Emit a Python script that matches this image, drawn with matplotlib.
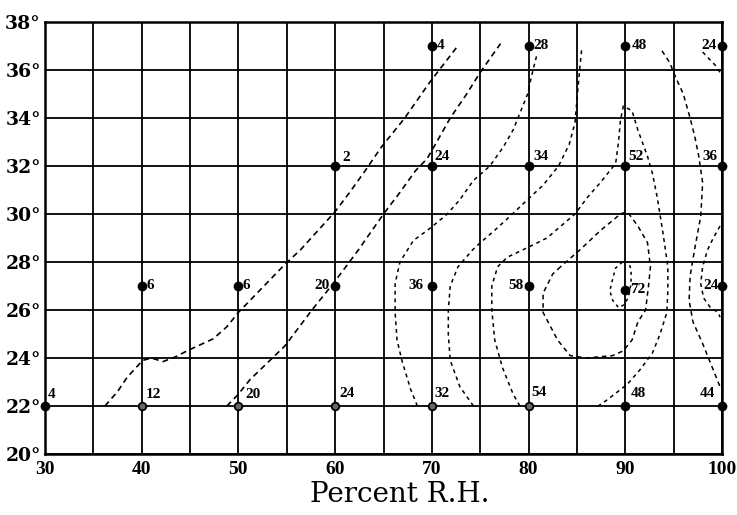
import matplotlib
matplotlib.use("Agg")
import matplotlib.pyplot as plt

# ---------------- data ----------------
# observation points: relative humidity (%), temperature (deg C), value
pt_rh = [70, 80, 90, 100,
         60, 70, 80, 90, 100,
         40, 50, 60, 70, 80, 90, 100,
         30, 40, 50, 60, 70, 80, 90, 100]
pt_temp = [37, 37, 37, 37,
           32, 32, 32, 32, 32,
           27, 27, 27, 27, 27, 26.85, 27,
           22, 22, 22, 22, 22, 22, 22, 22]
pt_value = ["4", "28", "48", "24",
            "2", "24", "34", "52", "36",
            "6", "6", "20", "36", "58", "72", "24",
            "4", "12", "20", "24", "32", "54", "48", "44"]

# hand-drawn isolines (rh, temp)
curveA_rh = [36.2, 37.5, 38.5, 40.1, 41.0, 42.2, 43.5, 44.7, 47.4, 48.8, 50.0, 51.2, 54.8, 56.4, 60.0, 61.5, 63.1, 64.8, 67.2, 69.8, 72.6]
curveA_t = [22.0, 22.6, 23.2, 23.9, 24.0, 23.85, 24.05, 24.3, 24.8, 25.3, 25.9, 26.4, 27.9, 28.5, 30.1, 30.9, 31.8, 32.8, 34.0, 35.5, 36.96]

curveB_rh = [48.8, 49.9, 51.2, 54.8, 57.6, 59.8, 62.4, 65.0, 66.7, 68.3, 69.5, 70.5, 71.9, 73.6, 75.0, 77.1]
curveB_t = [22.0, 22.45, 23.1, 24.5, 26.0, 27.1, 28.5, 30.0, 30.9, 31.8, 32.3, 33.0, 34.0, 35.0, 35.9, 37.1]

curveC_rh = [68.5, 67.8, 66.9, 66.4, 66.2, 66.2, 66.7, 68.1, 69.8, 71.6, 72.9, 74.3, 76.0, 77.4, 78.4, 79.4, 79.9, 80.4, 80.9]
curveC_t = [22.0, 22.7, 23.9, 24.75, 25.9, 27.1, 28.0, 28.9, 29.4, 30.0, 30.6, 31.4, 32.0, 32.8, 33.5, 34.5, 35.0, 35.9, 36.7]

curveD_rh = [74.3, 72.9, 71.9, 71.7, 71.7, 71.9, 72.7, 74.2, 75.0, 76.3, 77.8, 79.9, 81.5, 83.1, 84.2, 84.8, 85.0, 85.3, 85.5]
curveD_t = [22.0, 22.8, 23.9, 25.0, 26.0, 27.0, 27.8, 28.5, 28.8, 29.25, 29.8, 30.6, 31.2, 32.0, 32.9, 33.8, 34.75, 36.1, 36.9]

curveG_rh = [79.1, 78.4, 77.3, 76.5, 76.2, 76.2, 76.8, 77.8, 79.9, 81.9, 84.8, 86.1, 87.4, 89.0, 89.3, 89.5, 89.8, 90.7, 91.3, 92.3, 92.8, 93.3, 93.9, 94.4, 94.4, 94.3, 93.6, 92.8, 91.5, 90.2, 88.1, 87.2]
curveG_t = [22.0, 22.5, 23.6, 24.75, 26.0, 27.0, 27.8, 28.2, 28.6, 29.0, 30.0, 30.7, 31.3, 32.1, 33.0, 33.9, 34.5, 34.3, 33.5, 32.4, 31.7, 30.7, 29.2, 27.8, 26.8, 25.9, 25.0, 24.2, 23.5, 22.9, 22.25, 22.0]

curveE_rh = [83.3, 82.5, 81.5, 81.5, 83.0, 84.3, 86.0, 88.7, 89.8, 90.7, 91.3, 92.1, 92.4, 92.6, 92.3, 91.3, 90.2, 89.5, 87.4, 85.3, 83.3]
curveE_t = [27.8, 27.5, 26.7, 25.9, 24.75, 24.1, 24.0, 24.1, 24.3, 24.75, 25.5, 26.0, 27.0, 27.8, 28.8, 29.5, 30.1, 30.0, 29.3, 28.5, 27.8]

curveH_rh = [89.7, 89.0, 88.7, 88.4, 88.7, 89.3, 89.8, 90.3, 90.6, 90.6, 90.3, 89.7]
curveH_t = [28.0, 27.75, 27.3, 26.8, 26.4, 26.1, 26.2, 26.5, 27.1, 27.7, 28.0, 28.0]

curveI_rh = [93.8, 94.6, 95.2, 96.0, 96.7, 97.2, 97.6, 98.0, 97.8, 97.2, 96.7, 96.6, 97.0, 98.0, 98.8, 99.5, 99.8]
curveI_t = [36.8, 36.3, 35.7, 35.0, 34.0, 33.2, 32.4, 31.3, 29.9, 28.6, 27.4, 26.4, 25.5, 24.6, 23.8, 23.1, 22.8]

curveJ_rh = [99.8, 99.1, 98.5, 98.0, 97.8, 98.1, 98.8, 99.6, 99.8]
curveJ_t = [29.5, 29.0, 28.5, 27.8, 27.1, 26.5, 26.1, 25.9, 25.7]

curveK_rh = [98.0, 98.7, 99.3, 99.8]
curveK_t = [36.75, 36.45, 36.2, 35.9]

x_ticks = [30, 40, 50, 60, 70, 80, 90, 100]
y_ticks = [20, 22, 24, 26, 28, 30, 32, 34, 36, 38]
y_ticklabels = ["20°", "22°", "24°", "26°", "28°", "30°", "32°", "34°", "36°", "38°"]
x_label = "Percent R.H."

# ---------------- styling ----------------
# label offsets in pixels (dx, dy) and horizontal alignment per point
lab_off = [(5, 0), (5, 0), (6, 0), (-5, 0),
           (7, 8), (3, 9), (5, 9), (3, 9), (-4, 9),
           (5, 0), (4, 0), (-6, 0), (-8, 0), (-5, 0), (5, 0), (-3, 0),
           (3, 11), (4, 11), (7, 11), (4, 12), (3, 12), (3, 13), (5, 12), (-7, 12)]
lab_ha = ["left", "left", "left", "right",
          "left", "left", "left", "left", "right",
          "left", "left", "right", "right", "right", "left", "right",
          "left", "left", "left", "left", "left", "left", "left", "right"]
hollow = [False, False, False, False,
          False, False, False, False, False,
          False, False, False, False, False, False, False,
          False, True, True, True, True, True, False, False]

serif = ["Liberation Serif", "DejaVu Serif"]
wide_serif = ["DejaVu Serif"]

fig = plt.figure(figsize=(7.37, 5.15), dpi=100)
ax = fig.add_axes([45/737, 1-454/515, (722-45)/737, (454-22)/515])
ax.set_xlim(30, 100)
ax.set_ylim(20, 38)

# grid
for xv in range(30, 101, 5):
    ax.axvline(xv, color="black", lw=1.3, zorder=1)
for yv in y_ticks:
    ax.axhline(yv, color="black", lw=1.3, zorder=1)
for s in ax.spines.values():
    s.set_linewidth(1.8)

ax.set_xticks(x_ticks)
ax.set_xticklabels([str(v) for v in x_ticks], fontfamily=serif, fontsize=14,
                   fontweight="bold")
ax.set_yticks(y_ticks)
ax.set_yticklabels(y_ticklabels, fontfamily=wide_serif, fontsize=13.5, fontweight="bold")
ax.tick_params(length=0, pad=3)
ax.tick_params(axis="x", pad=5)

curves = [
    (curveA_rh, curveA_t, (3.5, 2.5), 1.2),
    (curveB_rh, curveB_t, (3.5, 2.5), 1.2),
    (curveC_rh, curveC_t, (2.5, 2.5), 1.1),
    (curveD_rh, curveD_t, (2.5, 2.5), 1.1),
    (curveG_rh, curveG_t, (2.5, 2.5), 1.1),
    (curveE_rh, curveE_t, (3, 2.5), 1.1),
    (curveH_rh, curveH_t, (2, 2.5), 1.1),
    (curveI_rh, curveI_t, (3, 2.5), 1.1),
    (curveJ_rh, curveJ_t, (2.5, 2.5), 1.1),
    (curveK_rh, curveK_t, (2.5, 2.5), 1.1),
]
for xs, ys, dash, lw in curves:
    ax.plot(xs, ys, color="black", lw=lw, linestyle=(0, dash), zorder=2,
            clip_on=False)

for x, y, v, off, ha, hol in zip(pt_rh, pt_temp, pt_value, lab_off, lab_ha, hollow):
    if hol:
        ax.plot(x, y, "o", ms=5.5, mfc="#666666", mec="black", mew=1.3,
                zorder=4, clip_on=False)
    else:
        ax.plot(x, y, "o", ms=6, color="black", zorder=4, clip_on=False)
    ax.annotate(v, (x, y), xytext=off, textcoords="offset pixels",
                ha=ha, va="center", fontsize=11, fontweight="bold",
                fontfamily=serif, zorder=5)

fig.text(400/737, 1-495/515, x_label, ha="center", va="center",
         fontsize=20, fontfamily=wide_serif)

fig.savefig("out.png", dpi=100)
